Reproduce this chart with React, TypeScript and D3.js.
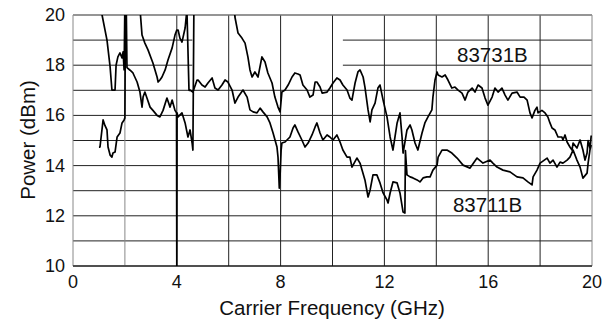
import React from 'react';
import * as d3 from 'd3';

// ---- data ----
const xTicks = [0, 4, 8, 12, 16, 20];
const yTicks = [10, 12, 14, 16, 18, 20];
const xGridLines = [0, 2, 4, 6, 8, 10, 12, 14, 16, 18, 20];
const yGridLines = [10, 11, 12, 13, 14, 15, 16, 17, 18, 19, 20];
const seriesNames = ['83731B', '83711B'];

// [GHz, dBm] ; values above 20 / below 10 run off the chart
const trace83731B: [number, number][] = [
  [1.0, 14.74], [1.04, 14.74], [1.16, 15.82], [1.23, 15.6], [1.31, 15.42], [1.35, 14.74], [1.43, 14.42],
  [1.5, 14.34], [1.54, 14.5], [1.62, 14.54], [1.7, 15.14], [1.81, 15.3], [1.89, 15.7], [1.97, 15.82],
  [2.0, 15.9], [2.02, 20.5], [2.05, 20.5], [2.08, 17.9], [2.2, 17.8], [2.31, 17.69], [2.47, 17.33],
  [2.58, 16.93], [2.66, 16.33], [2.7, 16.73], [2.77, 16.93], [2.85, 16.69], [2.97, 16.33], [3.08, 16.2],
  [3.24, 16.0], [3.35, 15.94], [3.47, 16.2], [3.62, 16.69], [3.74, 16.33], [3.82, 16.61], [3.93, 16.2],
  [3.99, 16.1], [4.0, 9.8], [4.01, 16.1], [4.05, 15.94], [4.2, 16.1], [4.32, 15.7], [4.43, 15.14],
  [4.51, 15.42], [4.59, 14.9], [4.62, 14.62], [4.66, 20.5], [6.2, 20.5], [6.24, 19.92], [6.36, 19.28],
  [6.51, 19.08], [6.63, 18.88], [6.74, 18.33], [6.82, 17.81], [6.9, 17.53], [7.01, 17.73], [7.13, 17.53],
  [7.28, 18.33], [7.4, 18.13], [7.51, 17.69], [7.67, 17.29], [7.78, 16.73], [7.9, 16.33], [7.98, 16.14],
  [8.05, 16.93], [8.17, 17.01], [8.29, 17.21], [8.44, 17.53], [8.55, 17.69], [8.67, 17.65], [8.75, 17.61],
  [8.86, 17.21], [9.02, 17.01], [9.13, 16.73], [9.25, 16.81], [9.33, 17.33], [9.4, 17.33], [9.52, 17.13],
  [9.6, 16.89], [9.79, 16.93], [9.9, 17.09], [10.02, 17.29], [10.17, 17.49], [10.29, 17.41], [10.4, 17.21],
  [10.56, 17.01], [10.67, 16.69], [10.75, 16.61], [10.87, 17.29], [10.98, 17.73], [11.06, 17.81],
  [11.18, 17.53], [11.25, 17.13], [11.37, 16.22], [11.45, 15.74], [11.52, 16.22], [11.64, 16.49],
  [11.75, 17.09], [11.83, 17.21], [11.95, 16.61], [12.1, 15.94], [12.22, 15.14], [12.33, 14.62],
  [12.49, 15.7], [12.6, 16.1], [12.68, 15.14], [12.72, 14.5], [12.87, 15.42], [12.99, 15.62],
  [13.06, 15.42], [13.18, 14.9], [13.29, 14.62], [13.45, 15.3], [13.56, 15.7], [13.68, 15.94],
  [13.83, 16.22], [13.87, 16.73], [13.95, 17.41], [14.03, 17.73], [14.07, 17.61], [14.22, 17.53],
  [14.34, 17.61], [14.45, 17.41], [14.6, 17.09], [14.72, 17.13], [14.84, 17.01], [14.99, 16.89],
  [15.11, 16.61], [15.22, 16.93], [15.38, 17.09], [15.49, 16.93], [15.61, 17.21], [15.76, 17.09],
  [15.88, 16.69], [15.99, 16.41], [16.15, 16.73], [16.26, 17.09], [16.38, 16.93], [16.53, 17.09],
  [16.65, 16.81], [16.76, 16.61], [16.92, 16.89], [17.11, 16.93], [17.23, 16.73], [17.38, 16.73],
  [17.5, 16.61], [17.61, 16.1], [17.69, 15.9], [17.8, 16.2], [17.88, 16.33], [17.92, 16.1], [18.07, 16.2],
  [18.19, 16.1], [18.3, 15.94], [18.38, 15.7], [18.46, 15.5], [18.57, 15.42], [18.69, 15.14],
  [18.84, 15.14], [18.88, 15.02], [18.96, 15.22], [19.04, 14.94], [19.15, 14.74], [19.23, 14.62],
  [19.27, 14.9], [19.42, 14.7], [19.54, 15.02], [19.65, 14.62], [19.73, 14.22], [19.81, 14.5],
  [19.85, 15.0], [19.92, 14.7], [19.97, 15.2],
];

const trace83711B: [number, number][] = [
  [1.1, 20.5], [1.12, 20.0], [1.31, 19.0], [1.43, 17.93], [1.5, 17.01], [1.62, 17.01], [1.66, 18.0],
  [1.73, 18.33], [1.81, 18.49], [1.89, 18.29], [1.93, 18.53], [1.97, 17.81], [2.0, 20.5], [2.58, 20.5],
  [2.6, 20.0], [2.66, 19.2], [2.77, 18.88], [2.89, 18.61], [3.08, 18.09], [3.24, 17.53], [3.28, 17.33],
  [3.35, 17.41], [3.43, 17.53], [3.55, 17.81], [3.66, 18.21], [3.82, 18.69], [3.93, 19.2], [4.0, 19.4],
  [4.05, 19.4], [4.12, 19.08], [4.2, 18.92], [4.32, 19.48], [4.35, 19.8], [4.39, 20.2], [4.47, 17.0],
  [4.51, 17.01], [4.62, 16.93], [4.78, 17.41], [4.82, 17.41], [4.97, 17.21], [5.09, 17.13], [5.2, 17.29],
  [5.36, 17.49], [5.47, 17.09], [5.59, 17.01], [5.74, 17.21], [5.86, 17.41], [5.97, 17.33], [6.13, 17.01],
  [6.24, 16.49], [6.36, 16.73], [6.55, 17.01], [6.71, 16.73], [6.82, 16.22], [6.94, 16.14], [7.09, 16.1],
  [7.21, 16.29], [7.32, 16.14], [7.48, 15.94], [7.59, 15.7], [7.71, 15.3], [7.86, 14.74], [7.9, 14.34],
  [7.95, 13.1], [7.98, 13.6], [8.02, 14.62], [8.05, 14.9], [8.17, 14.94], [8.36, 15.14], [8.48, 15.5],
  [8.55, 15.62], [8.67, 15.34], [8.82, 15.02], [8.94, 14.74], [9.06, 14.9], [9.21, 15.22], [9.33, 15.54],
  [9.4, 15.7], [9.52, 15.3], [9.63, 15.02], [9.79, 15.22], [9.9, 15.14], [10.02, 15.02], [10.17, 15.22],
  [10.29, 14.94], [10.4, 14.62], [10.56, 14.34], [10.67, 14.34], [10.75, 13.94], [10.94, 14.3],
  [11.06, 14.1], [11.25, 13.43], [11.37, 12.75], [11.45, 13.03], [11.56, 13.63], [11.71, 13.63],
  [11.83, 13.31], [11.95, 12.91], [12.1, 12.63], [12.14, 12.51], [12.22, 12.91], [12.33, 13.35],
  [12.49, 13.31], [12.6, 12.91], [12.72, 12.15], [12.79, 12.11], [12.81, 14.6], [12.87, 13.63],
  [12.99, 13.55], [13.1, 13.51], [13.26, 13.43], [13.37, 13.35], [13.49, 13.51], [13.64, 13.55],
  [13.76, 13.55], [13.87, 13.82], [14.03, 14.02], [14.07, 14.34], [14.22, 14.62], [14.41, 14.62],
  [14.6, 14.5], [14.8, 14.3], [15.03, 14.02], [15.3, 13.9], [15.57, 14.3], [15.8, 14.1], [16.07, 14.22],
  [16.18, 14.1], [16.34, 13.94], [16.57, 13.82], [16.84, 13.75], [17.11, 13.55], [17.34, 13.51],
  [17.53, 13.35], [17.69, 13.23], [17.73, 13.55], [17.88, 13.82], [18.0, 14.1], [18.27, 14.3],
  [18.38, 14.1], [18.5, 14.22], [18.65, 13.94], [18.77, 14.14], [18.88, 14.1], [19.04, 14.22],
  [19.15, 14.34], [19.27, 14.62], [19.42, 14.22], [19.54, 13.94], [19.65, 13.5], [19.81, 13.7],
  [19.85, 14.1], [19.92, 14.62], [19.97, 14.82],
];

const W = 609;
const H = 320;
const FONT = '"Liberation Sans", Arial, Helvetica, sans-serif';

export default function App() {
  const x = d3.scaleLinear().domain([0, 20]).range([73, 592]);
  const y = d3.scaleLinear().domain([10, 20]).range([266, 15]);
  const line = d3
    .line<[number, number]>()
    .x((d) => x(d[0]))
    .y((d) => y(d[1]));

  const [x0, x1] = x.range();
  const [yb, yt] = y.range();
  // faint (scan-missing) parts of the 18 and 19 dBm grid lines
  const fadedRows = [18, 19];
  const fadedFrom = 4.6;
  const fadedTo = 10.4;

  return (
    <svg
      width={W}
      height={H}
      style={{ position: 'absolute', left: 0, top: 0, background: '#fff' }}
      fontFamily={FONT}
    >
      <defs>
        <clipPath id="plotClip">
          <rect x={x0} y={yt} width={x1 - x0} height={yb - yt} />
        </clipPath>
      </defs>
      {/* horizontal grid */}
      {yGridLines.map((v) =>
        fadedRows.includes(v) ? (
          <g key={'h' + v}>
            <line x1={x0} x2={x(fadedFrom)} y1={y(v)} y2={y(v)} stroke="#222" strokeWidth={1} />
            <line x1={x(fadedTo)} x2={x1} y1={y(v)} y2={y(v)} stroke="#222" strokeWidth={1} />
          </g>
        ) : (
          <line key={'h' + v} x1={x0} x2={x1} y1={y(v)} y2={y(v)} stroke="#222" strokeWidth={1} />
        )
      )}
      {/* vertical grid */}
      {xGridLines.map((v) => (
        <line
          key={'v' + v}
          x1={x(v)}
          x2={x(v)}
          y1={yt}
          y2={yb}
          stroke={v === 0 || v === 20 || v === 2 ? '#888' : '#222'}
          strokeWidth={1}
        />
      ))}
      <line x1={x0} x2={x1} y1={yt} y2={yt} stroke="#999" strokeWidth={1} />
      <line x1={x0} x2={x1} y1={yb} y2={yb} stroke="#111" strokeWidth={1.2} />

      {/* traces */}
      <g clipPath="url(#plotClip)">
        <path d={line(trace83731B) || ''} fill="none" stroke="#000" strokeWidth={1.7} strokeLinejoin="round" />
        <path d={line(trace83711B) || ''} fill="none" stroke="#000" strokeWidth={1.7} strokeLinejoin="round" />
      </g>

      {/* series labels */}
      <text x={x(14.8)} y={y(18.13)} fontSize={20.5} fill="#111">
        {seriesNames[0]}
      </text>
      <text x={x(14.64)} y={y(12.15)} fontSize={20.5} fill="#111">
        {seriesNames[1]}
      </text>

      {/* y tick labels */}
      {yTicks.map((v) => (
        <text key={'yt' + v} x={65} y={y(v) + 6} textAnchor="end" fontSize={18} fill="#111">
          {v}
        </text>
      ))}
      {/* x tick labels */}
      {xTicks.map((v) => (
        <text key={'xt' + v} x={x(v)} y={288} textAnchor="middle" fontSize={18} fill="#111">
          {v}
        </text>
      ))}

      <text x={332} y={315} textAnchor="middle" fontSize={20.5} fill="#111">
        Carrier Frequency (GHz)
      </text>
      <text
        transform={`translate(35, 140) rotate(-90)`}
        textAnchor="middle"
        fontSize={20.5}
        fill="#111"
      >
        Power (dBm)
      </text>
    </svg>
  );
}
